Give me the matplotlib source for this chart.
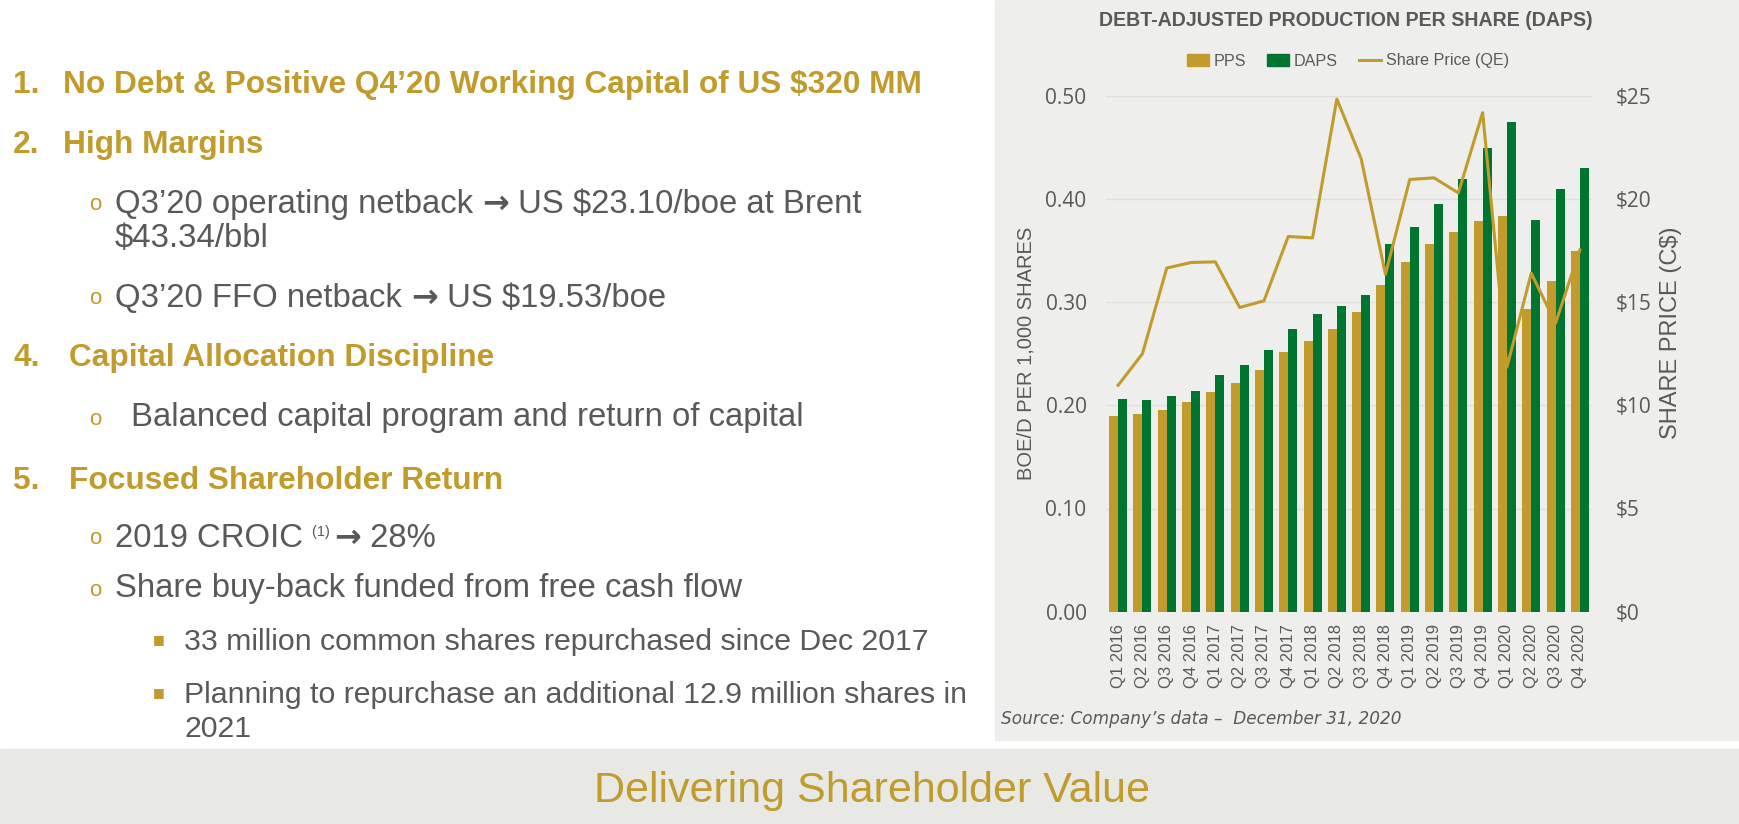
import numpy as np
import matplotlib.pyplot as plt
from matplotlib.patches import Rectangle, Patch
from matplotlib.lines import Line2D

# data
quarters = ['Q1 2016', 'Q2 2016', 'Q3 2016', 'Q4 2016',
            'Q1 2017', 'Q2 2017', 'Q3 2017', 'Q4 2017',
            'Q1 2018', 'Q2 2018', 'Q3 2018', 'Q4 2018',
            'Q1 2019', 'Q2 2019', 'Q3 2019', 'Q4 2019',
            'Q1 2020', 'Q2 2020', 'Q3 2020', 'Q4 2020']
pps = [0.190, 0.192, 0.195, 0.203, 0.213, 0.222, 0.234, 0.252, 0.262, 0.274,
       0.290, 0.317, 0.339, 0.356, 0.368, 0.379, 0.383, 0.293, 0.320, 0.350]
daps = [0.206, 0.205, 0.209, 0.214, 0.229, 0.239, 0.254, 0.274, 0.288, 0.296,
        0.307, 0.356, 0.373, 0.395, 0.419, 0.449, 0.475, 0.380, 0.410, 0.430]
share_price = [10.97, 12.50, 16.65, 16.92, 16.95, 14.74, 15.06, 18.18, 18.11, 24.84,
               21.95, 16.35, 20.94, 21.02, 20.29, 24.18, 11.85, 16.40, 13.98, 17.53]
left_ticks = [0.0, 0.1, 0.2, 0.3, 0.4, 0.5]
right_ticks = [0, 5, 10, 15, 20, 25]

GOLD = '#C19B2B'
GREEN = '#00752F'
GREY = '#595959'
PANEL = '#EEEFEC'
BANNER = '#E8E9E4'

W, H = 1739, 824
def fx(x):
    return x / W
def fy(y):
    return 1 - y / H

plt.rcParams['font.family'] = ['Liberation Sans', 'DejaVu Sans']

fig = plt.figure(figsize=(W / 100, H / 100), dpi=100)
fig.patch.set_facecolor('white')

# background panels
fig.patches.append(Rectangle((fx(995), fy(740)), 1 - fx(995), fy(0) - fy(740),
                             transform=fig.transFigure, color=PANEL, zorder=-5))
fig.patches.append(Rectangle((0, 0), 1, fy(749), transform=fig.transFigure,
                             color=BANNER, zorder=-5))

# chart
ax = fig.add_axes([fx(1106), fy(611.7), fx(1592) - fx(1106), fy(95.7) - fy(611.7)])
ax.set_facecolor(PANEL)
x = np.arange(len(quarters))
bw = 0.37
ax.bar(x - bw / 2, pps, bw, color=GOLD, zorder=2)
ax.bar(x + bw / 2, daps, bw, color=GREEN, zorder=2)
ax.set_xlim(-0.5, len(quarters) - 0.5)
ax.set_ylim(0, 0.5)
ax.set_yticks(left_ticks)
ax.set_yticklabels([f'{v:.2f}' for v in left_ticks], fontfamily='Open Sans',
                   fontsize=15, color=GREY)
ax.set_xticks(x)
ax.set_xticklabels(quarters, rotation=90, fontsize=12, color=GREY)
ax.tick_params(axis='both', length=0)
ax.tick_params(axis='y', pad=14)
ax.tick_params(axis='x', pad=9)
ax.yaxis.grid(True, color='#DFE0DD', lw=1)
ax.set_axisbelow(True)
for s in ax.spines.values():
    s.set_visible(False)

ax2 = ax.twinx()
ax2.plot(x, share_price, color=GOLD, lw=2.2, zorder=3)
ax2.set_ylim(0, 25)
ax2.set_yticks(right_ticks)
ax2.set_yticklabels([f'${v}' for v in right_ticks], fontfamily='Open Sans',
                    fontsize=15, color=GREY)
ax2.tick_params(axis='y', length=0, pad=17)
for s in ax2.spines.values():
    s.set_visible(False)

fig.text(fx(1346), fy(20), 'DEBT-ADJUSTED PRODUCTION PER SHARE (DAPS)', ha='center',
         va='center', fontsize=14.1, fontweight='bold', color=GREY)
handles = [Patch(color=GOLD, label='PPS'), Patch(color=GREEN, label='DAPS'),
           Line2D([], [], color=GOLD, lw=2.2, label='Share Price (QE)')]
leg = fig.legend(handles=handles, loc='center', bbox_to_anchor=(fx(1348), fy(61)),
                 ncol=3, frameon=False, fontsize=11.6, handlelength=1.35,
                 handletextpad=0.3, columnspacing=1.3)
for t in leg.get_texts():
    t.set_color(GREY)
fig.text(fx(1026), fy(353), 'BOE/D PER 1,000 SHARES', rotation=90, ha='center',
         va='center', fontsize=14.5, color=GREY)
fig.text(fx(1671), fy(333), 'SHARE PRICE (C$)', rotation=90, ha='center',
         va='center', fontsize=17, color=GREY)
fig.text(fx(1001), fy(719), 'Source: Company\u2019s data \u2013  December 31, 2020',
         ha='left', va='center', fontsize=12.2, fontstyle='italic',
         fontfamily='DejaVu Sans', color=GREY)

# left side text
renderer = fig.canvas.get_renderer()
def put(xp, yp, s, **kw):
    return fig.text(fx(xp), fy(yp), s, ha='left', va='center', **kw)

def chain(xp, yp, pieces, size):
    # pieces: (text, extra kwargs, dy in px); all on one baseline
    base = fy(yp + 0.30 * size * 100 / 72)
    xx = fx(xp)
    for s, kw, dy in pieces:
        kw = dict(kw)
        kw.setdefault('fontsize', size)
        kw.setdefault('color', GREY)
        t = fig.text(xx, base + dy / H, s, ha='left', va='baseline', **kw)
        xx = t.get_window_extent(renderer).x1 / W

HS = 22.8   # headings
SS = 23.7   # second level
TS = 21.8   # third level
ARROW = dict(fontfamily='DejaVu Sans', fontweight='bold', fontsize=23)

heads = [(85, '1.', 63, 'No Debt & Positive Q4\u201920 Working Capital of US $320 MM'),
         (145, '2.', 63, 'High Margins'),
         (358, '4.', 69, 'Capital Allocation Discipline'),
         (481, '5.', 69, 'Focused Shareholder Return')]
for yp, num, xt, s in heads:
    put(13, yp, num, fontsize=HS, fontweight='bold', color=GOLD)
    put(xt, yp, s, fontsize=HS, fontweight='bold', color=GOLD)

for yp in [203, 297, 417, 537, 589]:
    put(89, yp + 2, 'o', fontsize=16, color=GOLD)

chain(115, 203, [('Q3\u201920 operating netback ', {}, 0), ('\u2192', ARROW, 0),
                 (' US $23.10/boe at Brent', {}, 0)], SS)
put(115, 238, '$43.34/bbl', fontsize=SS, color=GREY)
chain(115, 297, [('Q3\u201920 FFO netback ', {}, 0), ('\u2192', ARROW, 0),
                 (' US $19.53/boe', {}, 0)], SS)
put(131, 417, 'Balanced capital program and return of capital', fontsize=SS, color=GREY)
chain(115, 537, [('2019 CROIC ', {}, 0), ('(1) ', {'fontsize': 10.5}, 11),
                 ('\u2192', ARROW, 0), (' 28%', {}, 0)], SS)
put(115, 589, 'Share buy-back funded from free cash flow', fontsize=SS, color=GREY)

for yp, s in [(642, '33 million common shares repurchased since Dec 2017'),
              (695, 'Planning to repurchase an additional 12.9 million shares in')]:
    put(153, yp - 2, '\u25A0', fontsize=9, color=GOLD, fontfamily='DejaVu Sans')
    put(184, yp, s, fontsize=TS, color=GREY)
put(184, 729, '2021', fontsize=TS, color=GREY)

fig.text(fx(872), fy(791), 'Delivering Shareholder Value', ha='center', va='center',
         fontsize=31, color=GOLD)

fig.savefig('out.png', dpi=100)
